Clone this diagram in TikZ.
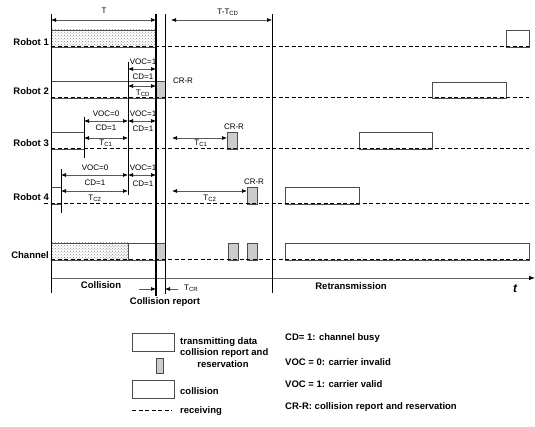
\documentclass[tikz,border=0pt]{standalone}
\usepackage{fontspec}
\setmainfont{Liberation Sans}
\usetikzlibrary{arrows.meta,patterns}
\begin{document}
\begin{tikzpicture}[x=1pt,y=-1pt,
  lbl/.style={font=\fontsize{9.5}{10}\selectfont\bfseries, inner sep=0pt},
  sm/.style={font=\fontsize{8}{9}\selectfont, inner sep=0pt},
  rx/.style={dash pattern=on 4pt off 2.5pt, line width=1pt},
  vline/.style={line width=0.6pt},
  tip/.tip={Latex[length=5pt,width=4pt,black]},
  dim/.style={tip-tip, line width=0.7pt, draw=black!65},
  oneway/.style={-tip, line width=0.7pt, draw=black!65},
  databox/.style={draw=black!70, line width=0.6pt, fill=white},
  crrbox/.style={draw=black!70, line width=0.6pt, fill=black!20},
  collbox/.style={draw=black!70, line width=0.6pt, fill=black!6, pattern=crosshatch dots, pattern color=black!45}
]
\useasboundingbox (0,0) rectangle (535,427);

% ---------- boxes ----------
% Robot 1
\draw[collbox] (51,30) rectangle (156,47);
\draw[databox] (506,30) rectangle (529,47);
% Robot 2
\draw[databox] (51,81) rectangle (156,98);
\draw[crrbox] (156,81) rectangle (165,98);
\draw[databox] (432,82) rectangle (506,98);
% Robot 3
\draw[databox] (51,132) rectangle (84,149);
\draw[crrbox] (227,132) rectangle (237,149);
\draw[databox] (359,132) rectangle (432,149);
% Robot 4
\draw[databox] (51,187) rectangle (61,204);
\draw[crrbox] (247,187) rectangle (257,204);
\draw[databox] (285,187) rectangle (359,204);
% Channel
\draw[collbox] (51,243) rectangle (128,260);
\fill[pattern=dots, pattern color=black!45] (105,243) rectangle (128,260);
\draw[databox] (128,243) rectangle (156,260);
\draw[crrbox] (156,243) rectangle (165,260);
\draw[crrbox] (228,243) rectangle (238,260);
\draw[crrbox] (247,243) rectangle (257,260);
\draw[databox] (285,243) rectangle (529,260);

% ---------- receiving lines ----------
\draw[rx] (51,47) -- (529,47);
\draw[rx] (51,98) -- (529,98);
\draw[rx] (51,149) -- (529,149);
\draw[rx] (44,204) -- (529,204);
\draw[rx] (51,260) -- (529,260);

% ---------- time axis ----------
\coordinate (ax0) at (51,278);
\coordinate (ax1) at (535,278);
\draw[-{Latex[length=6pt,width=4.5pt,black]}, draw=black!60, line width=0.8pt] (ax0) -- (ax1);

% ---------- vertical marks ----------
\draw[vline] (51,14) -- (51,293);
\draw[line width=1.6pt] (156,14) -- (156,296);
\draw[vline] (165,14) -- (165,294);
\draw[vline] (272,14) -- (272,293);
\draw[vline] (128,62) -- (128,195);
\draw[vline] (84,117) -- (84,158);
\draw[vline] (61,169) -- (61,213);

% ---------- top dimensions ----------
\coordinate (ta) at (51,20); \coordinate (tb) at (156,20);
\draw[dim] (ta) -- (tb);
\node[sm] (tlab) at (104,11) {T};
\coordinate (tc) at (171,20); \coordinate (td) at (272,20);
\draw[dim] (tc) -- (td);
\node[sm] (ttlab) at (228,12) {T-T\textsubscript{CD}};

% ---------- Robot 2 ----------
\coordinate (r2a) at (128,69); \coordinate (r2b) at (156,69);
\draw[dim] (r2a) -- (r2b);
\node[sm] (r2voc) at (143,62) {VOC=1};
\node[sm] (r2cd) at (143,77) {CD=1};
\coordinate (r2c) at (128,86); \coordinate (r2d) at (156,86);
\draw[dim] (r2c) -- (r2d);
\node[sm] (r2t) at (143,93) {T\textsubscript{CD}};
\node[sm] (r2crr) at (183,81) {CR-R};

% ---------- Robot 3 ----------
\coordinate (r3a) at (84,121); \coordinate (r3b) at (128,121); \coordinate (r3c) at (156,121);
\draw[dim] (r3a) -- (r3b);
\draw[dim] (r3b) -- (r3c);
\node[sm] (r3voc0) at (106,114) {VOC=0};
\node[sm] (r3voc1) at (143,114) {VOC=1};
\node[sm] (r3cd0) at (106,128) {CD=1};
\node[sm] (r3cd1) at (143,129) {CD=1};
\coordinate (r3d) at (84,138); \coordinate (r3e) at (128,138);
\draw[dim] (r3d) -- (r3e);
\node[sm] (r3t) at (106,143) {T\textsubscript{C1}};
\coordinate (r3f) at (172,138); \coordinate (r3g) at (227,138);
\draw[dim] (r3f) -- (r3g);
\node[sm] (r3t2) at (201,143) {T\textsubscript{C1}};
\node[sm] (r3crr) at (234,127) {CR-R};

% ---------- Robot 4 ----------
\coordinate (r4a) at (61,175); \coordinate (r4b) at (128,175); \coordinate (r4c) at (156,175);
\draw[dim] (r4a) -- (r4b);
\draw[dim] (r4b) -- (r4c);
\node[sm] (r4voc0) at (95,168) {VOC=0};
\node[sm] (r4voc1) at (143,168) {VOC=1};
\node[sm] (r4cd0) at (95,183) {CD=1};
\node[sm] (r4cd1) at (143,184) {CD=1};
\coordinate (r4d) at (61,191); \coordinate (r4e) at (128,191);
\draw[dim] (r4d) -- (r4e);
\node[sm] (r4t) at (95,198) {T\textsubscript{C2}};
\coordinate (r4f) at (172,191); \coordinate (r4g) at (247,191);
\draw[dim] (r4f) -- (r4g);
\node[sm] (r4t2) at (210,198) {T\textsubscript{C2}};
\node[sm] (r4crr) at (254,182) {CR-R};

% ---------- row labels ----------
\node[lbl, anchor=east] (rob1) at (49,42) {Robot 1};
\node[lbl, anchor=east] (rob2) at (49,91) {Robot 2};
\node[lbl, anchor=east] (rob3) at (49,143) {Robot 3};
\node[lbl, anchor=east] (rob4) at (49,197) {Robot 4};
\node[lbl, anchor=east] (chan) at (49,255) {Channel};

% ---------- phase labels ----------
\node[lbl] (coll) at (101,285) {Collision};
\node[lbl] (retr) at (351,286) {Retransmission};
\node[lbl] (crep) at (165,302) {Collision report};
\node[font=\fontsize{12}{12}\selectfont\bfseries\itshape, inner sep=0pt] (tt) at (515,289) {t};
\coordinate (cra) at (139,289); \coordinate (crb) at (156,289);
\coordinate (crc) at (178,289); \coordinate (crd) at (165,289);
\draw[oneway] (cra) -- (crb);
\draw[oneway] (crc) -- (crd);
\node[sm, anchor=west] (tcr) at (184,288) {T\textsubscript{CR}};

% ---------- legend ----------
\draw[databox] (132,333) rectangle (174,351);
\node[lbl, anchor=west] (lg1) at (180,342) {transmitting data};
\draw[crrbox] (156,358) rectangle (163,373);
\node[lbl, anchor=west] (lg2) at (180,353) {collision report and};
\node[lbl] (lg2b) at (223,364) {reservation};
\draw[databox] (132,380) rectangle (174,398);
\node[lbl, anchor=west] (lg3) at (180,391) {collision};
\coordinate (lgd1) at (132,410); \coordinate (lgd2) at (172,410);
\draw[rx] (lgd1) -- (lgd2);
\node[lbl, anchor=west] (lg4) at (180,411) {receiving};

\node[lbl, anchor=west] (lr1) at (285,338) {CD= 1: channel busy};
\node[lbl, anchor=west] (lr2) at (285,362) {VOC = 0: carrier invalid};
\node[lbl, anchor=west] (lr3) at (285,384) {VOC = 1: carrier valid};
\node[lbl, anchor=west] (lr4) at (285,407) {CR-R: collision report and reservation};

\end{tikzpicture}
\end{document}
